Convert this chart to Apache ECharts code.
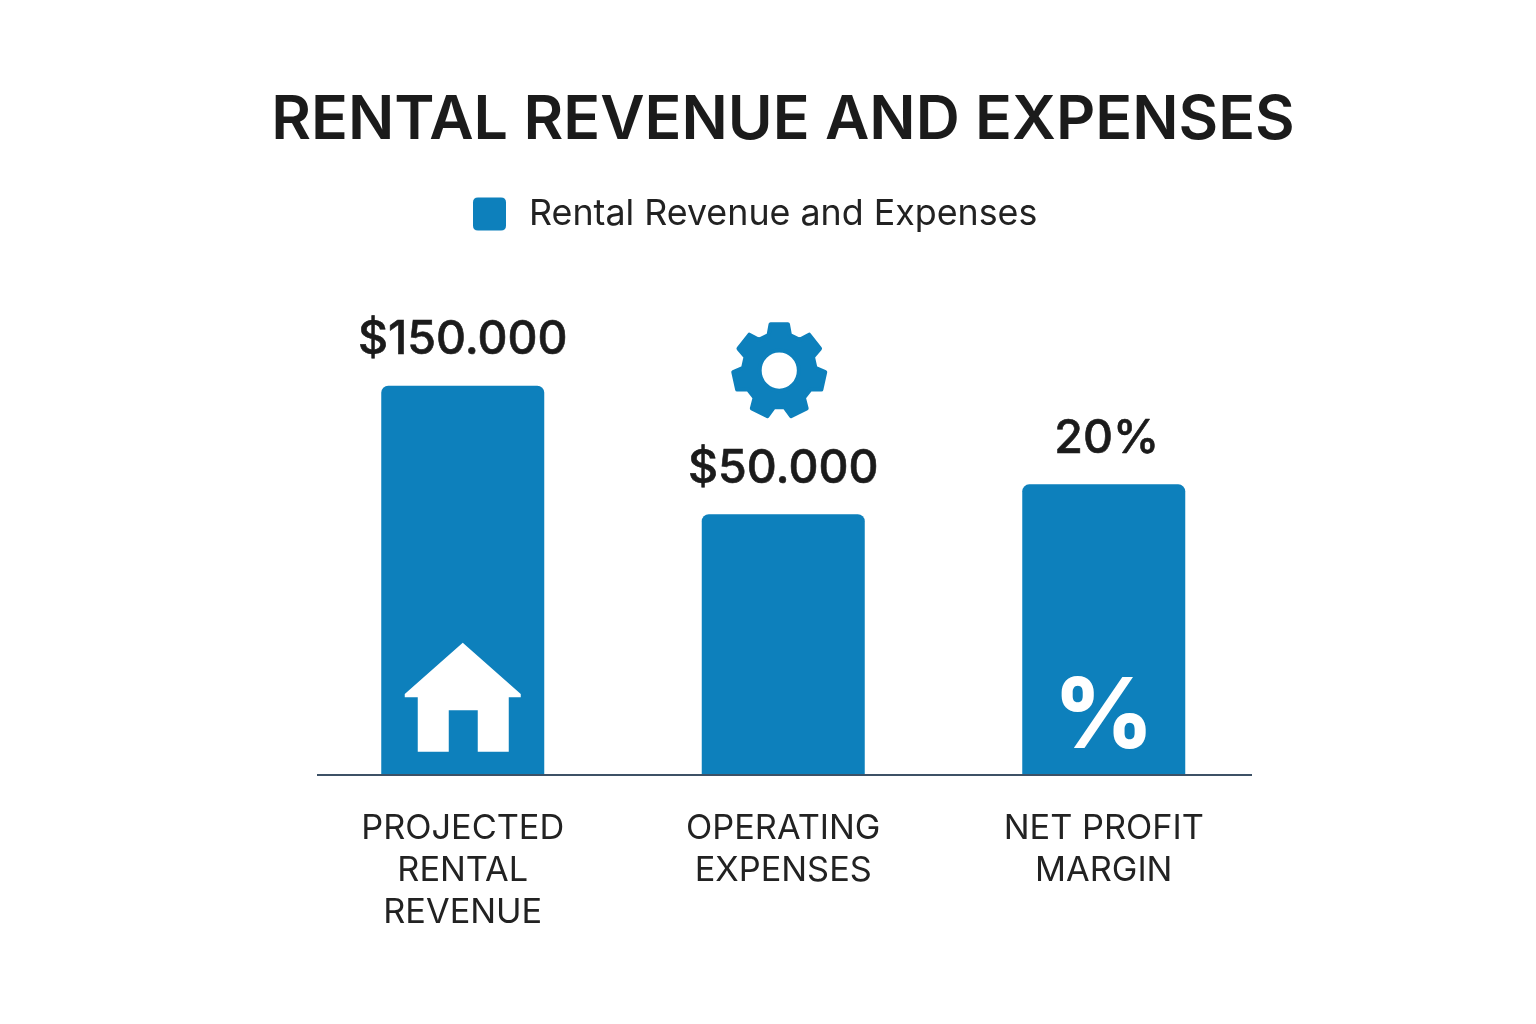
<!DOCTYPE html>
<html>
<head>
<meta charset="utf-8">
<title>Rental Revenue and Expenses</title>
<script src="https://cdn.jsdelivr.net/npm/echarts@6/dist/echarts.min.js"></script>
<style>
html, body { margin: 0; padding: 0; background: #fff; }
#chart { width: 1536px; height: 1024px; }
</style>
</head>
<body>
<div id="chart"></div>
<script>
var categories = ['PROJECTED\nRENTAL\nREVENUE', 'OPERATING\nEXPENSES', 'NET PROFIT\nMARGIN'];
// bar heights are not to scale with the labels in the picture, so they are kept apart
var barHeights = [150, 100.5, 112];
var barLabels = ['$150.000', '$50.000', '20%'];
var seriesName = 'Rental Revenue and Expenses';

var BLUE = '#0d80bc';
var DARK = '#1b1b1b';
var FONT = 'Inter';

// house with a door cut out
var housePath = 'path://M58 0L116 51L116 54L104 54L104 108L73 108L73 67L44 67L44 108L13 108L13 54L0 54L0 51Z';
var legendIcon = 'path://M5 0L28 0Q33 0 33 5L33 28Q33 33 28 33L5 33Q0 33 0 28L0 5Q0 0 5 0Z';

// 7 teeth, hole wound the other way round
function gearPath() {
    var d = '';
    var teeth = 7;
    for (var i = 0; i < teeth; i++) {
        var a = i * 2 * Math.PI / teeth;
        var pts = [[-0.3, 37], [-0.19, 47], [0.19, 47], [0.3, 37]];
        pts.forEach(function (p) {
            var x = 50 + p[1] * Math.sin(a + p[0]);
            var y = 50 - p[1] * Math.cos(a + p[0]);
            d += (d ? 'L' : 'M') + x.toFixed(2) + ' ' + y.toFixed(2);
        });
    }
    d += 'Z';
    var r = 20;
    d += 'M' + (50 - r) + ' 50A' + r + ' ' + r + ' 0 1 0 ' + (50 + r) + ' 50A' + r + ' ' + r + ' 0 1 0 ' + (50 - r) + ' 50Z';
    return 'path://' + d;
}

var chart = echarts.init(document.getElementById('chart'));
chart.setOption({
    backgroundColor: '#ffffff',
    animation: false,
    textStyle: { fontFamily: FONT },
    title: {
        text: 'RENTAL REVENUE AND EXPENSES',
        left: 778,
        top: 85,
        textAlign: 'center',
        textStyle: { fontFamily: FONT, fontSize: 61, fontWeight: 600, color: DARK }
    },
    legend: {
        data: [{ name: seriesName, icon: legendIcon }],
        left: 473,
        top: 196,
        padding: 0,
        itemWidth: 33,
        itemHeight: 33,
        textStyle: { fontFamily: FONT, fontSize: 35.8, color: '#222222', padding: [0, 0, 0, 18] }
    },
    grid: { left: 302.5, top: 256, width: 961.5, height: 519 },
    xAxis: {
        type: 'category',
        data: categories,
        axisLine: { show: false },
        axisTick: { show: false },
        axisLabel: {
            margin: 33,
            interval: 0,
            fontFamily: FONT,
            fontSize: 34.3,
            lineHeight: 42,
            color: '#222222'
        }
    },
    yAxis: {
        type: 'value',
        min: 0,
        max: 200,
        show: false
    },
    graphic: [{
        type: 'line',
        z: 10,
        shape: { x1: 317, y1: 775, x2: 1252, y2: 775 },
        style: { stroke: '#3d5166', lineWidth: 2 }
    }],
    series: [
        {
            name: seriesName,
            type: 'bar',
            data: barHeights.map(function (v, i) {
                return i === 2 ? { value: v, label: { offset: [3, 0] } } : v;
            }),
            barWidth: 163,
            itemStyle: { color: BLUE, borderRadius: [7, 7, 0, 0] },
            label: {
                show: true,
                position: 'top',
                distance: 22,
                fontFamily: FONT,
                fontSize: 46.5,
                fontWeight: 500,
                color: DARK,
                textBorderColor: DARK,
                textBorderWidth: 0.6,
                formatter: function (p) { return barLabels[p.dataIndex]; }
            }
        },
        {
            name: 'icons',
            type: 'scatter',
            clip: false,
            z: 5,
            data: [
                { value: [0, 30], symbol: housePath, symbolSize: [116, 109], itemStyle: { color: '#ffffff', opacity: 1 } },
                { value: [1, 156], symbol: gearPath(), symbolSize: 92, symbolOffset: [-4, 0],
                  itemStyle: { color: BLUE, opacity: 1, borderColor: BLUE, borderWidth: 4, borderJoin: 'round' } },
                { value: [2, 21.5], symbol: 'circle', symbolSize: 0, itemStyle: { opacity: 1 },
                  label: { show: true, position: 'inside', formatter: '%', fontFamily: FONT, fontSize: 97,
                           fontWeight: 800, color: '#ffffff' } }
            ]
        }
    ]
});
</script>
</body>
</html>
